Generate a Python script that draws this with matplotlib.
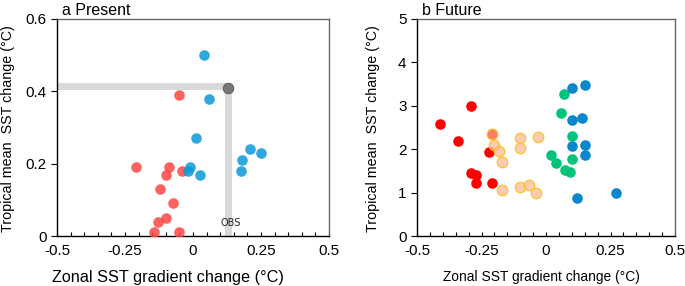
import numpy as np
import matplotlib.pyplot as plt
from matplotlib.ticker import MultipleLocator

plt.rcParams['font.family'] = ['Liberation Sans', 'DejaVu Sans']

# panel a: present
a_red_x = [-0.21, -0.05, -0.09, -0.10, -0.042, -0.12, -0.072, -0.10, -0.13, -0.142, -0.051]
a_red_y = [0.19, 0.39, 0.19, 0.17, 0.18, 0.13, 0.09, 0.05, 0.04, 0.01, 0.01]
a_blue_x = [0.04, 0.06, 0.01, -0.01, -0.02, 0.026, 0.18, 0.21, 0.25, 0.175]
a_blue_y = [0.50, 0.38, 0.27, 0.19, 0.18, 0.17, 0.21, 0.24, 0.23, 0.18]
obs_x = 0.13
obs_y = 0.41

# panel b: future
b_red_x = [-0.41, -0.29, -0.34, -0.22, -0.29, -0.27, -0.27, -0.21, -0.21]
b_red_y = [2.57, 3.0, 2.2, 1.93, 1.45, 1.41, 1.21, 1.21, 2.36]
b_peach_x = [-0.21, -0.20, -0.184, -0.17, -0.17, -0.10, -0.10, -0.03, -0.10, -0.066, -0.037]
b_peach_y = [2.36, 2.10, 1.97, 1.71, 1.07, 2.25, 2.03, 2.28, 1.14, 1.17, 1.00]
b_green_x = [0.07, 0.06, 0.10, 0.02, 0.04, 0.073, 0.092, 0.10]
b_green_y = [3.28, 2.84, 2.30, 1.87, 1.68, 1.51, 1.48, 1.77]
b_blue_x = [0.10, 0.15, 0.10, 0.14, 0.10, 0.15, 0.15, 0.12, 0.27]
b_blue_y = [3.41, 3.47, 2.68, 2.72, 2.08, 2.10, 1.87, 0.87, 1.00]

fig = plt.figure(figsize=(6.85, 2.86), dpi=100)
ax1 = fig.add_axes([57/685, 1-236/286, 272/685, 217/286])
ax2 = fig.add_axes([417/685, 1-236/286, 258/685, 217/286])

ms = 58

def style(ax, xl_size, xl_pos, yl_pos):
    ax.set_xlim(-0.5, 0.5)
    ax.set_xticks([-0.5, -0.25, 0, 0.25, 0.5])
    ax.set_xticklabels(['-0.5', '-0.25', '0', '0.25', '0.5'])
    ax.xaxis.set_minor_locator(MultipleLocator(0.05))
    ax.tick_params(axis='x', which='both', direction='in', length=3, width=0.8, labelsize=11, pad=6)
    ax.tick_params(axis='y', which='major', direction='out', length=4, width=0.8, labelsize=11)
    ax.spines['left'].set_color('black')
    ax.spines['bottom'].set_color('black')
    ax.spines['top'].set_color('#666666')
    ax.spines['right'].set_color('#666666')
    for s in ax.spines.values():
        s.set_linewidth(1.0)
    ax.set_xlabel('Zonal SST gradient change (°C)', fontsize=xl_size, va='center')
    ax.set_ylabel('Tropical mean  SST change (°C)', fontsize=10.3, va='center')
    ax.xaxis.set_label_coords(xl_pos, -0.189)
    ax.yaxis.set_label_coords(yl_pos, 0.495)

# panel a
ax1.plot([-0.5, obs_x], [obs_y + 0.005, obs_y + 0.005], color='#d9d9d9', lw=5, solid_capstyle='butt', zorder=1)
ax1.plot([obs_x, obs_x], [0, obs_y], color='#d9d9d9', lw=5, solid_capstyle='butt', zorder=1)
ax1.scatter(a_red_x, a_red_y, s=ms, color='#ff4444', alpha=0.85, linewidths=0, zorder=3)
ax1.scatter(a_blue_x, a_blue_y, s=ms, color='#0a9ad8', alpha=0.85, linewidths=0, zorder=3)
ax1.scatter([obs_x], [obs_y], s=ms, color='#777777', edgecolor='#555555', linewidths=0.6, zorder=4)
ax1.text(obs_x + 0.008, 0.036, 'OBS', fontsize=7, ha='center', va='center', family='DejaVu Sans', color='#222222')
ax1.set_ylim(0, 0.6)
ax1.set_yticks([0, 0.2, 0.4, 0.6])
ax1.set_yticklabels(['0', '0.2', '0.4', '0.6'])
style(ax1, 11.7, 0.408, -0.18)
ax1.set_title('a Present', loc='left', fontsize=11.5, pad=3, x=0.02)

# panel b
ax2.scatter(b_red_x, b_red_y, s=ms, color='#ff0000', linewidths=0, zorder=3)
ax2.scatter(b_peach_x, b_peach_y, s=ms, facecolor=(1.0, 0.72, 0.55, 0.7), edgecolor='#ffc020', linewidths=0.8, zorder=4)
ax2.scatter(b_green_x, b_green_y, s=ms, color='#00c47a', linewidths=0, zorder=3)
ax2.scatter(b_blue_x, b_blue_y, s=ms, color='#0a86cc', linewidths=0, zorder=3)
ax2.set_ylim(0, 5)
ax2.set_yticks([0, 1, 2, 3, 4, 5])
style(ax2, 9.9, 0.484, -0.17)
ax2.set_title('b Future', loc='left', fontsize=11.5, pad=3, x=0.02)

fig.savefig('out.png', dpi=100)
